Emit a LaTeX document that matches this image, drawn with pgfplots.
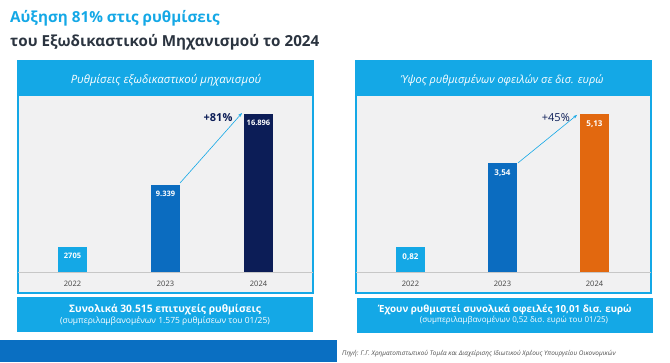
\documentclass[border=0pt]{standalone}
\usepackage{pgfplots}
\pgfplotsset{compat=1.18}
\usepackage{fontspec}
\setmainfont{Open Sans}
\usetikzlibrary{arrows.meta}
\definecolor{cyanC}{HTML}{14A8E6}
\definecolor{blueC}{HTML}{0B6CC0}
\definecolor{navyC}{HTML}{0C1D57}
\definecolor{orangeC}{HTML}{E2680F}
\definecolor{bgC}{HTML}{F1F1F2}
\definecolor{titleC}{HTML}{2B3440}
\definecolor{bandC}{HTML}{0A6FC2}
\begin{document}
\begin{tikzpicture}
\fill[white] (0pt,0pt) rectangle (670pt,362pt);
% title
\node[anchor=west, inner sep=0, text=cyanC, font=\bfseries\fontsize{15.2}{17}\selectfont] at (10pt,344pt) {Αύξηση 81\% στις ρυθμίσεις};
\node[anchor=west, inner sep=0, text=titleC, font=\bfseries\fontsize{15.2}{17}\selectfont] at (10pt,320pt) {του Εξωδικαστικού Μηχανισμού το 2024};
% headers
\fill[cyanC] (17.25pt,267pt) rectangle (313.75pt,302pt);
\node[text=white, font=\itshape\fontsize{11.4}{13}\selectfont] at (166pt,282pt) {Ρυθμίσεις εξωδικαστικού μηχανισμού};
\fill[cyanC] (355.25pt,267pt) rectangle (651.75pt,302pt);
\node[text=white, font=\itshape\fontsize{11}{13}\selectfont] at (502pt,282pt) {Ύψος ρυθμισμένων οφειλών σε δισ. ευρώ};
% left axis
\begin{axis}[at={(18pt,69pt)}, anchor=south west, scale only axis, width=295pt, height=198pt,
  xmin=-0.586, xmax=2.586, ymin=-2246, ymax=18928,
  axis background/.style={fill=bgC},
  axis line style={draw=cyanC, line width=1.5pt},
  ybar, bar width=29pt, xtick={0,1,2}, xticklabels={2022,2023,2024}, ytick=\empty,
  major tick length=0pt,
  xticklabel style={yshift=15pt, font=\fontsize{7.5}{9}\selectfont, text=black!75},
  nodes near coords, point meta=explicit symbolic,
  nodes near coords style={anchor=north, yshift=-3pt, text=white, font=\bfseries\fontsize{7.5}{9}\selectfont},
  clip=false]
\draw[black!22, line width=0.6pt] (axis cs:-0.586,0) -- (axis cs:2.586,0);
\addplot[fill=cyanC, draw=none, bar shift=0pt] coordinates {(0,2705) [2705]};
\addplot[fill=blueC, draw=none, bar shift=0pt] coordinates {(1,9339) [9.339]};
\addplot[fill=navyC, draw=none, bar shift=0pt] coordinates {(2,16896) [16.896]};
\draw[-{Stealth[length=4pt,width=3pt]}, cyanC, line width=0.6pt] (axis cs:1.156,9517) -- (axis cs:1.823,17003);
\node[text=navyC, font=\bfseries\fontsize{11}{12}\selectfont] at (axis cs:1.565,16468) {+81\%};
\end{axis}
% right axis
\begin{axis}[at={(356pt,69pt)}, anchor=south west, scale only axis, width=295pt, height=198pt,
  xmin=-0.592, xmax=2.614, ymin=-0.682, ymax=5.747,
  axis background/.style={fill=bgC},
  axis line style={draw=cyanC, line width=1.5pt},
  ybar, bar width=29pt, xtick={0,1,2}, xticklabels={2022,2023,2024}, ytick=\empty,
  major tick length=0pt,
  xticklabel style={yshift=15pt, font=\fontsize{7.5}{9}\selectfont, text=black!75},
  nodes near coords, point meta=explicit symbolic,
  nodes near coords style={anchor=north, yshift=-3pt, text=white, font=\bfseries\fontsize{8}{9}\selectfont},
  clip=false]
\draw[black!22, line width=0.6pt] (axis cs:-0.592,0) -- (axis cs:2.614,0);
\addplot[fill=cyanC, draw=none, bar shift=0pt] coordinates {(0,0.82) [{0,82}]};
\addplot[fill=blueC, draw=none, bar shift=0pt] coordinates {(1,3.54) [{3,54}]};
\addplot[fill=orangeC, draw=none, bar shift=0pt] coordinates {(2,5.13) [{5,13}]};
\draw[-{Stealth[length=4pt,width=3pt]}, cyanC, line width=0.6pt] (axis cs:1.168,3.54) -- (axis cs:1.81,5.10);
\node[text=navyC, font=\fontsize{11}{12}\selectfont] at (axis cs:1.58,5.03) {+45\%};
\end{axis}
% bottom boxes
\fill[cyanC] (17pt,30pt) rectangle (313pt,65pt);
\node[text=white, font=\bfseries\fontsize{10.3}{12}\selectfont] at (165pt,52pt) {Συνολικά 30.515 επιτυχείς ρυθμίσεις};
\node[text=white, font=\fontsize{8.5}{10}\selectfont] at (165pt,41pt) {(συμπεριλαμβανομένων 1.575 ρυθμίσεων του 01/25)};
\fill[cyanC] (357pt,29pt) rectangle (653pt,64pt);
\node[text=white, font=\bfseries\fontsize{9.8}{11}\selectfont] at (505pt,52pt) {Έχουν ρυθμιστεί συνολικά οφειλές 10,01 δισ. ευρώ};
\node[text=white, font=\fontsize{8}{9}\selectfont] at (514pt,42pt) {(συμπεριλαμβανομένων 0,52 δισ. ευρώ του 01/25)};
% bottom band and source
\fill[bandC] (0pt,0pt) rectangle (337pt,22pt);
\node[anchor=west, inner sep=0, text=black!70, font=\itshape\fontsize{6.4}{7}\selectfont] at (342pt,8pt) {Πηγή: Γ.Γ. Χρηματοπιστωτικού Τομέα και Διαχείρισης Ιδιωτικού Χρέους Υπουργείου Οικονομικών};
\pgfresetboundingbox
\useasboundingbox (0pt,0pt) rectangle (670pt,362pt);
\end{tikzpicture}
\end{document}
